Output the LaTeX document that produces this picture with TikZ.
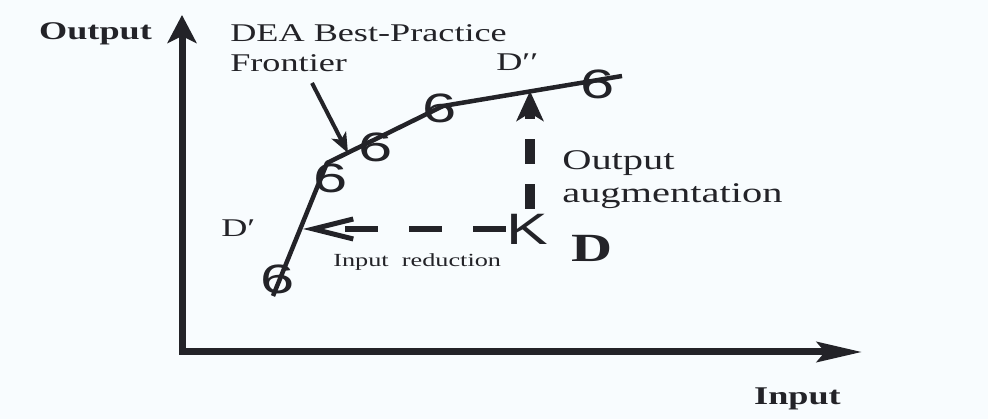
\documentclass[tikz,border=0pt]{standalone}
\usepackage{fontspec}
\setmainfont{Liberation Serif}
\newfontfamily\markfont{Liberation Sans}
\usetikzlibrary{arrows.meta}
\definecolor{bgc}{RGB}{248,252,254}
\definecolor{ink}{RGB}{35,35,40}
\begin{document}
\begin{tikzpicture}[x=1pt,y=-1pt,
  lbl/.style={inner sep=0pt, text=ink, xscale=1.42},
  marksix/.style={inner sep=0pt, text=ink, font=\markfont\fontsize{41}{41}\selectfont, xscale=1.5},
  markk/.style={inner sep=0pt, text=ink, font=\markfont\fontsize{44}{44}\selectfont, xscale=1.42},
  axis/.style={draw=ink, line width=7pt, line join=miter,
    arrows={Stealth[length=28pt,width=29pt,inset=7pt]-Stealth[length=45pt,width=20pt,inset=8pt]}},
  frontier/.style={draw=ink, line width=4.5pt, line join=round},
  pointer/.style={draw=ink, line width=4pt, -{Stealth[length=20pt,width=16pt,inset=5pt]}},
  hdash/.style={draw=ink, line width=6.5pt,
    dash pattern=on 33pt off 31pt on 33pt off 31pt on 33pt off 80pt,
    -{Straight Barb[length=40pt,width=20pt,line width=5pt]}},
  vdash/.style={draw=ink, line width=10pt, dash pattern=on 25pt off 20pt, dash phase=25pt,
    -{Stealth[length=30pt,width=27pt,inset=8pt]}}
]
\fill[bgc] (0,0) rectangle (988,419);
\useasboundingbox (0,0) rectangle (988,419);

% axes
\coordinate (ytip) at (182,15);
\coordinate (O) at (182,352);
\coordinate (xtip) at (862,352);
\draw[axis] (ytip) -- (O) -- (xtip);

\node[lbl, anchor=base, font=\fontsize{25.5}{30}\selectfont\bfseries] (ylab) at (95.5,40) {Output};
\node[lbl, anchor=base, font=\fontsize{25.5}{30}\selectfont\bfseries] (xlab) at (797.5,405) {Input};

% frontier
\coordinate (F0) at (273,296);
\coordinate (F1) at (327,163);
\coordinate (F2) at (443,106);
\coordinate (F3) at (622,76);
\draw[frontier] (F0) -- (F1) -- (F2) -- (F3);

\node[marksix] (m1) at (278,279) {6};
\node[marksix] (m2) at (331,178) {6};
\node[marksix] (m3) at (376,147) {6};
\node[marksix] (m4) at (440,108) {6};
\node[marksix] (m5) at (598,84) {6};

% frontier label and pointer
\node[lbl, anchor=base west, align=left, font=\fontsize{25.5}{30}\selectfont] (flab) at (230,72) {DEA Best-Practice\\Frontier};
\coordinate (pa) at (312,83);
\coordinate (pb) at (348,153);
\draw[pointer] (pa) -- (pb);

% D and projections
\node[markk] (D) at (527,229) {K};
\coordinate (Dp) at (303,229);
\coordinate (Dpp) at (530,91);
\draw[hdash] (D.west) -- (Dp);
\draw[vdash] (530,229) -- (Dpp);

\node[lbl, anchor=base west, font=\fontsize{40}{40}\selectfont\bfseries] (Dlab) at (571,262) {D};
\node[lbl, anchor=base west, font=\fontsize{25.5}{30}\selectfont] (Dplab) at (221,237) {D′};
\node[lbl, anchor=base west, font=\fontsize{25.5}{30}\selectfont] (Dpplab) at (496,71) {D′′};
\node[lbl, anchor=base west, font=\fontsize{18.5}{22}\selectfont] (irlab) at (333,267) {Input~~reduction};
\node[lbl, anchor=base west, align=left, font=\fontsize{28.5}{33}\selectfont] (oalab) at (562,203) {Output\\augmentation};
\end{tikzpicture}
\end{document}
